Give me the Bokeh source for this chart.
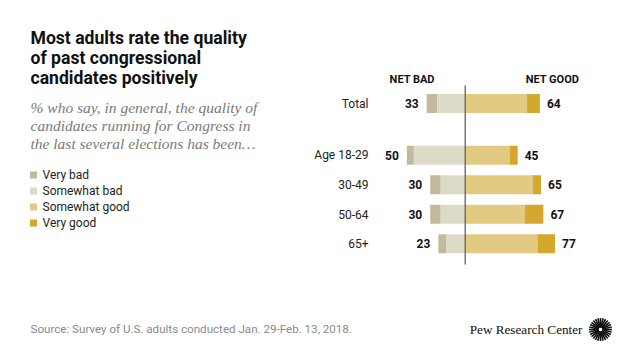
import math
from bokeh.plotting import figure
from bokeh.models import Range1d, ColumnDataSource
from bokeh.core.properties import value
from bokeh.embed import file_html
from bokeh.resources import INLINE

# ---- data ----
categories = ["Total", "Age 18-29", "30-49", "50-64", "65+"]
very_bad = [9, 6, 9, 9, 7]
somewhat_bad = [24, 44, 21, 21, 16]
somewhat_good = [53, 38, 58, 51, 62]
very_good = [11, 7, 7, 16, 15]
net_bad = [33, 50, 30, 30, 23]
net_good = [64, 45, 65, 67, 77]
legend_labels = ["Very bad", "Somewhat bad", "Somewhat good", "Very good"]

colors = ["#C3BA9C", "#DDDAC8", "#E2CA82", "#D4A82F"]

title_lines = ["Most adults rate the quality", "of past congressional", "candidates positively"]
subtitle_lines = ["% who say, in general, the quality of",
                  "candidates running for Congress in",
                  "the last several elections has been\u2026"]
source_text = "Source: Survey of U.S. adults conducted Jan. 29-Feb. 13, 2018."

# ---- layout (picture px) ----
W, H = 624, 344
ZERO = 464.7
PPU = 1.167  # px per percentage point


def ux(px):
    """picture-x pixel -> data units"""
    return (px - ZERO) / PPU


p = figure(width=W, height=H, output_backend="svg", toolbar_location=None,
           x_range=Range1d(ux(0), ux(W)), y_range=Range1d(H, 0),
           min_border=0)
p.axis.visible = False
p.grid.visible = False
p.outline_line_color = None
p.background_fill_color = "white"
p.border_fill_color = "white"

# row positions
ys = []
for i in range(len(categories)):
    off = i + 0.75 if i > 0 else 0
    ys.append(103 + 29.5 * off)

left_vb = [-(a + b) for a, b in zip(very_bad, somewhat_bad)]
right_vb = [-b for b in somewhat_bad]
src = ColumnDataSource(dict(
    y=ys, cat=categories,
    vb_l=left_vb, vb_r=right_vb,
    sb_l=right_vb, sb_r=[0] * 5,
    sg_l=[0] * 5, sg_r=somewhat_good,
    vg_l=somewhat_good, vg_r=[a + b for a, b in zip(somewhat_good, very_good)],
    nb=[str(v) for v in net_bad], nb_x=[-v - 8 / PPU for v in net_bad],
    ng=[str(v) for v in net_good], ng_x=[v + 7 / PPU for v in net_good],
))

BH = 19
for (l, r), c in zip([("vb_l", "vb_r"), ("sb_l", "sb_r"), ("sg_l", "sg_r"), ("vg_l", "vg_r")], colors):
    p.hbar(y="y", left=l, right=r, height=BH, fill_color=c, line_color=None, source=src)

# zero line
p.segment(x0=[0], x1=[0], y0=[85], y1=[264], line_color="#555555", line_width=1.2)

SANS = value("Roboto")
# category labels
p.text(x=ux(368), y="y", text="cat", source=src, text_font=SANS, text_font_size="12px",
       text_align="right", text_baseline="middle", text_color="#222222")
# value labels
p.text(x="nb_x", y="y", text="nb", source=src, text_font=SANS, text_font_size="12px",
       text_font_style="bold", text_align="right", text_baseline="middle", text_color="#111111")
p.text(x="ng_x", y="y", text="ng", source=src, text_font=SANS, text_font_size="12px",
       text_font_style="bold", text_align="left", text_baseline="middle", text_color="#111111")

# headers
p.text(x=[ux(411.7), ux(552)], y=[79, 79], text=["NET BAD", "NET GOOD"], text_font=SANS,
       text_font_size="11px", text_font_style="bold", text_align="center",
       text_baseline="middle", text_color="#111111")

# title
p.text(x=[ux(30)] * 3, y=[37, 57, 77], text=title_lines, text_font=SANS,
       text_font_size="17.6px", text_font_style="bold", text_baseline="middle",
       text_color="#111111")
# subtitle
p.text(x=[ux(30)] * 3, y=[107, 125, 143], text=subtitle_lines,
       text_font=value("Liberation Serif"), text_font_size="15.5px",
       text_font_style="italic", text_baseline="middle", text_color="#7a7a7a")

# legend
leg_y = [174.5, 190.5, 206.5, 222.5]
p.rect(x=[ux(33)] * 4, y=leg_y, width=7 / PPU, height=7, fill_color=colors, line_color=None)
p.text(x=[ux(42)] * 4, y=leg_y, text=legend_labels, text_font=SANS, text_font_size="12px",
       text_baseline="middle", text_color="#222222")

# footer
p.text(x=[ux(30)], y=[328], text=[source_text], text_font=SANS, text_font_size="11.6px",
       text_baseline="middle", text_color="#8a8a8a")
p.text(x=[ux(582)], y=[329], text=["Pew Research Center"], text_font=value("Liberation Serif"),
       text_font_size="13.2px", text_align="right", text_baseline="middle", text_color="#111111")

# logo sunburst
cx, cy, n = 600, 329, 28
x0s, x1s, y0s, y1s = [], [], [], []
for k in range(n):
    a = 2 * math.pi * k / n
    x0s.append(ux(cx + 2.0 * math.cos(a)))
    x1s.append(ux(cx + 11.5 * math.cos(a)))
    y0s.append(cy + 2.0 * math.sin(a))
    y1s.append(cy + 11.5 * math.sin(a))
p.segment(x0=x0s, x1=x1s, y0=y0s, y1=y1s, line_color="#111111", line_width=1.6)

open("out.html", "w").write(file_html(p, INLINE))
